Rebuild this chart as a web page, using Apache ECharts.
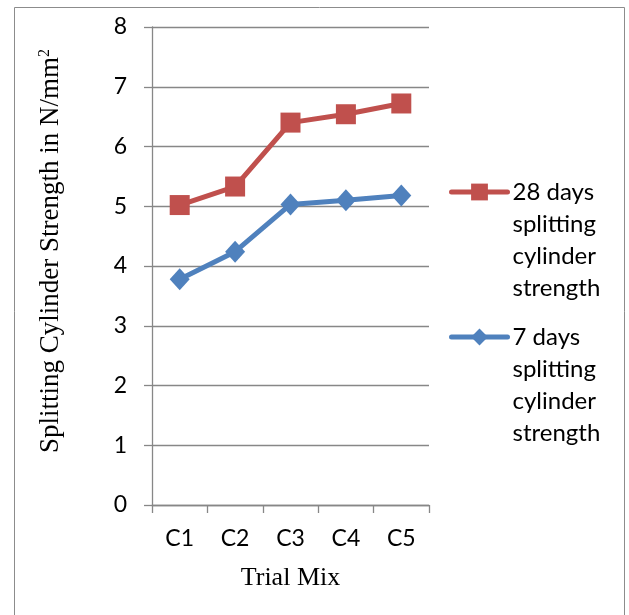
<!DOCTYPE html>
<html>
<head>
<meta charset="utf-8">
<script src="https://cdn.jsdelivr.net/npm/echarts@6/dist/echarts.min.js"></script>
<style>
html,body{margin:0;padding:0;background:#fff;}
#chart{width:629px;height:615px;}
</style>
</head>
<body>
<div id="chart"></div>
<script>
const categories = ['C1', 'C2', 'C3', 'C4', 'C5'];
const strength28 = [5.02, 5.33, 6.40, 6.54, 6.72];
const strength7 = [3.78, 4.24, 5.03, 5.10, 5.18];
const seriesNames = ['28 days splitting cylinder strength', '7 days splitting cylinder strength'];
const legendLines = {
  '28 days splitting cylinder strength': ['28 days', 'splitting', 'cylinder', 'strength'],
  '7 days splitting cylinder strength': ['7 days', 'splitting', 'cylinder', 'strength']
};
const xTitle = 'Trial Mix';
const yTitle = 'Splitting Cylinder Strength in N/mm{sup|2}';
const yMin = 0, yMax = 8, yInterval = 1;

const grey = '#878787';
const sansFont = 'Lato';
const serifFont = 'Liberation Serif';

const chart = echarts.init(document.getElementById('chart'), null, {renderer: 'canvas'});

function legendFormatter(name) {
  // blank lines above so the marker sits beside the first line
  return ['', '', ''].concat(legendLines[name]).join('\n');
}

const legendCommon = {
  orient: 'vertical',
  left: 449,
  padding: 0,
  itemWidth: 56,
  itemHeight: 21,
  selectedMode: false,
  formatter: legendFormatter,
  textStyle: {fontFamily: sansFont, fontSize: 24, color: '#000', lineHeight: 32},
  lineStyle: {width: 5}
};

chart.setOption({
  animation: false,
  backgroundColor: '#fff',
  graphic: [{
    type: 'rect',
    shape: {x: 14.5, y: 7.5, width: 610, height: 640},
    style: {fill: 'none', stroke: '#8c8c8c', lineWidth: 1},
    silent: true
  }],
  grid: {left: 152, right: 200, top: 27, bottom: 110, containLabel: false},
  legend: [
    Object.assign({}, legendCommon, {top: 192 - 112, data: [seriesNames[0]]}),
    Object.assign({}, legendCommon, {top: 337 - 112, data: [seriesNames[1]]})
  ],
  xAxis: {
    type: 'category',
    data: categories,
    boundaryGap: true,
    name: xTitle,
    nameLocation: 'middle',
    nameGap: 60,
    nameTextStyle: {fontFamily: serifFont, fontSize: 26, color: '#000'},
    axisLine: {lineStyle: {color: grey, width: 1.3}},
    axisTick: {show: true, length: 8, alignWithLabel: false, lineStyle: {color: grey, width: 1.3}},
    axisLabel: {fontFamily: sansFont, fontSize: 23, color: '#000', margin: 22}
  },
  yAxis: {
    type: 'value',
    min: yMin,
    max: yMax,
    interval: yInterval,
    name: yTitle,
    nameLocation: 'middle',
    nameRotate: 90,
    nameGap: 88,
    nameTextStyle: {
      fontFamily: serifFont, fontSize: 27, color: '#000',
      padding: [0, 0, 0, 30],
      rich: {sup: {fontFamily: serifFont, fontSize: 16, color: '#000', verticalAlign: 'top', lineHeight: 16}}
    },
    axisLine: {show: true, lineStyle: {color: grey, width: 1.3}},
    axisTick: {show: true, length: 8, lineStyle: {color: grey, width: 1.3}},
    axisLabel: {fontFamily: sansFont, fontSize: 23, color: '#000', margin: 25},
    splitLine: {show: true, lineStyle: {color: grey, width: 1.3}}
  },
  series: [
    {
      name: seriesNames[0],
      type: 'line',
      data: strength28,
      symbol: 'rect',
      symbolSize: 20,
      lineStyle: {color: '#C0504D', width: 5, cap: 'round'},
      itemStyle: {color: '#C0504D'},
      z: 3
    },
    {
      name: seriesNames[1],
      type: 'line',
      data: strength7,
      symbol: 'diamond',
      symbolSize: [20, 22],
      lineStyle: {color: '#4F81BD', width: 5, cap: 'round'},
      itemStyle: {color: '#4F81BD'},
      z: 3
    }
  ]
});
</script>
</body>
</html>
